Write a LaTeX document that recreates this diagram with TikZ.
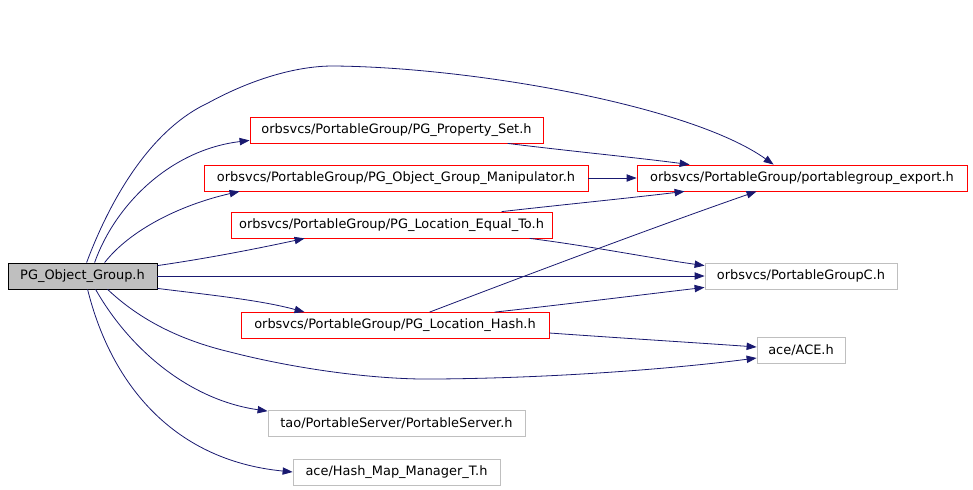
\documentclass[tikz,border=0pt]{standalone}
\usepackage{fontspec}
\setmainfont{DejaVu Sans}
\usetikzlibrary{arrows.meta,calc}
\definecolor{edgeblue}{HTML}{191970}
\definecolor{boxgray}{HTML}{BFBFBF}
\begin{document}
\begin{tikzpicture}[x=0.75pt,y=-0.75pt,
  box/.style={draw,rectangle,inner sep=0pt,minimum height=19.5pt,font=\fontsize{9.7}{11}\selectfont,line width=0.6pt},
  redbox/.style={box,draw=red},
  graybox/.style={box,draw=boxgray},
  mainbox/.style={box,draw=black,fill=boxgray},
  edge/.style={draw=edgeblue,line width=0.6pt,-{Triangle[length=7.5pt,width=5.5pt]},fill=none}]
\useasboundingbox (0,0) rectangle (973,489);
\node[mainbox,minimum width=111.75pt] (pg) at (82.5,276) {PG\_Object\_Group.h};
\node[redbox,minimum width=219.75pt] (ps) at (396.5,130) {orbsvcs/PortableGroup/PG\_Property\_Set.h};
\node[redbox,minimum width=288pt] (man) at (396,178) {orbsvcs/PortableGroup/PG\_Object\_Group\_Manipulator.h};
\node[redbox,minimum width=240.75pt] (eq) at (391.5,225) {orbsvcs/PortableGroup/PG\_Location\_Equal\_To.h};
\node[redbox,minimum width=247.5pt] (exp) at (802,178) {orbsvcs/PortableGroup/portablegroup\_export.h};
\node[graybox,minimum width=144pt] (pgc) at (801,276) {orbsvcs/PortableGroupC.h};
\node[redbox,minimum width=231pt] (hash) at (395,325.5) {orbsvcs/PortableGroup/PG\_Location\_Hash.h};
\node[graybox,minimum width=66pt] (ace) at (801,350) {ace/ACE.h};
\node[graybox,minimum width=192.75pt] (psrv) at (396.5,423.5) {tao/PortableServer/PortableServer.h};
\node[graybox,minimum width=155.25pt] (hmm) at (396.5,472) {ace/Hash\_Map\_Manager\_T.h};
% edges from PG_Object_Group
\draw[edge] ($(pg.north west)+(79,0)$) .. controls (110,200) and (150,130) .. (208,103) .. controls (250,80) and (295,66) .. (333,66) .. controls (470,67) and (690,105) .. ($(exp.north west)+(137,0)$);
\draw[edge] ($(pg.north west)+(87,0)$) .. controls (115,205) and (170,150) .. ($(ps.south west)+(0,-3)$);
\draw[edge] ($(pg.north west)+(97,0)$) .. controls (130,230) and (180,205) .. ($(man.south west)+(36,0)$);
\draw[edge] ($(pg.north east)+(0,3)$) .. controls (210,258) and (260,248) .. ($(eq.south west)+(74,0)$);
\draw[edge] (pg.east) -- (pgc.west);
\draw[edge] ($(pg.south east)+(0,-1)$) .. controls (210,295) and (260,300) .. ($(hash.north west)+(64,0)$);
\draw[edge] ($(pg.south west)+(100,0)$) .. controls (140,320) and (180,340) .. (230,352) .. controls (300,370) and (380,380) .. (436,379) .. controls (560,378) and (680,368) .. ($(ace.west)+(0,8)$);
\draw[edge] ($(pg.south west)+(88,0)$) .. controls (130,350) and (190,400) .. ($(psrv.north west)+(0,1)$);
\draw[edge] ($(pg.south west)+(80,0)$) .. controls (110,380) and (170,460) .. (hmm.west);
% other edges
\draw[edge] ($(ps.south west)+(258,0)$) .. controls (560,150) and (640,158) .. ($(exp.north west)+(53,0)$);
\draw[edge] (man.east) -- (exp.west);
\draw[edge] ($(eq.north west)+(271,0)$) .. controls (560,205) and (630,198) .. ($(exp.south west)+(48,0)$);
\draw[edge] ($(eq.south west)+(299,0)$) .. controls (590,246) and (650,258) .. ($(pgc.north west)+(0,3)$);
\draw[edge] ($(hash.north west)+(189,0)$) .. controls (540,270) and (660,225) .. ($(exp.south west)+(120,0)$);
\draw[edge] ($(hash.north west)+(254,0)$) .. controls (560,305) and (640,295) .. ($(pgc.south west)+(0,-2)$);
\draw[edge] ($(hash.east)+(0,7.5)$) .. controls (620,338) and (700,343) .. ($(ace.west)+(0,-3)$);
\end{tikzpicture}
\end{document}
